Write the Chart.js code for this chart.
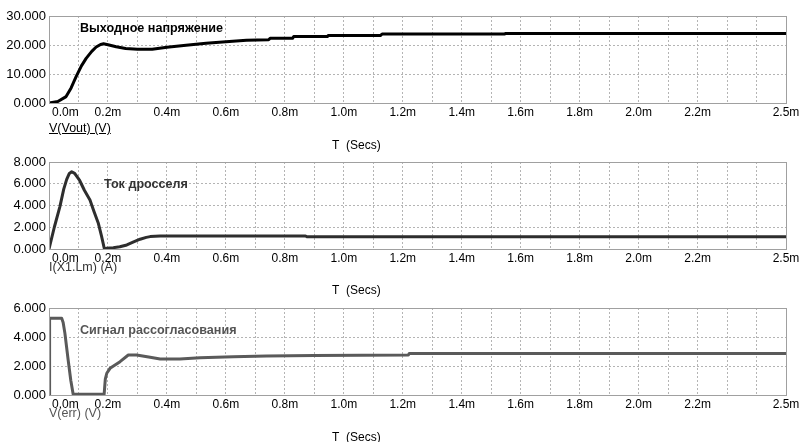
<!DOCTYPE html>
<html>
<head>
<meta charset="utf-8">
<script src="https://cdn.jsdelivr.net/npm/chart.js@4/dist/chart.umd.min.js"></script>
<style>
  html, body { margin: 0; padding: 0; background: #fff; }
  #wrap { position: relative; width: 801px; height: 442px; overflow: hidden;
          font-family: "Liberation Sans", Arial, sans-serif; }
  canvas { position: absolute; left: 0; top: 0; }
  .t { position: absolute; font-size: 12.5px; line-height: 14px; white-space: nowrap; }
  .b { font-weight: bold; font-size: 12.6px; }
</style>
</head>
<body>
<div id="wrap">
  <canvas id="c1" width="801" height="442"></canvas>
  <canvas id="c2" width="801" height="442"></canvas>
  <canvas id="c3" width="801" height="442"></canvas>

  <div class="t" style="left:49px;top:121px;color:#000;text-decoration:underline;">V(Vout) (V)</div>
  <div class="t" style="left:49px;top:260px;color:#333;">I(X1.Lm) (A)</div>
  <div class="t" style="left:49px;top:406px;color:#555;">V(err) (V)</div>

  <div class="t" style="left:332px;top:138px;color:#000;font-size:12px;">T&nbsp; (Secs)</div>
  <div class="t" style="left:332px;top:283px;color:#000;font-size:12px;">T&nbsp; (Secs)</div>
  <div class="t" style="left:332px;top:430px;color:#000;font-size:12px;">T&nbsp; (Secs)</div>

  <div class="t b" style="left:80px;top:21px;color:#000;">Выходное напряжение</div>
  <div class="t b" style="left:104px;top:177px;color:#333;">Ток дросселя</div>
  <div class="t b" style="left:80px;top:323px;color:#555;">Сигнал рассогласования</div>
</div>
<script>
// ---- x axis (time, ms) ----
const xTickValues = [0, 0.2, 0.4, 0.6, 0.8, 1.0, 1.2, 1.4, 1.6, 1.8, 2.0, 2.2, 2.5];
const xTickLabels = ['0.0m','0.2m','0.4m','0.6m','0.8m','1.0m','1.2m','1.4m','1.6m','1.8m','2.0m','2.2m','2.5m'];
const xGridStep = 0.1;
const xMax = 2.5;

// ---- panel 1: V(Vout) ----
const tVout = [0, 0.03, 0.058, 0.075, 0.092, 0.11, 0.126, 0.145, 0.16, 0.175, 0.185, 0.2, 0.228, 0.26, 0.3, 0.35, 0.4, 0.465, 0.533, 0.6, 0.67, 0.745, 0.75, 0.826, 0.83, 0.944, 0.948, 1.125, 1.13, 1.545, 1.55, 2.5];
const vOut  = [0, 0.5, 2.2, 5.2, 9.1, 12.8, 15.4, 17.8, 19.3, 20.2, 20.4, 20.1, 19.4, 18.8, 18.5, 18.5, 19.2, 19.9, 20.6, 21.1, 21.6, 21.8, 22.3, 22.3, 22.9, 22.9, 23.3, 23.3, 23.8, 23.8, 24.0, 24.0];
const yTicks1 = [0, 10, 20, 30];
const yLabels1 = ['0.000', '10.000', '20.000', '30.000'];

// ---- panel 2: I(X1.Lm) ----
const tIl = [0, 0.018, 0.037, 0.05, 0.06, 0.069, 0.077, 0.087, 0.104, 0.12, 0.139, 0.152, 0.167, 0.178, 0.188, 0.195, 0.218, 0.24, 0.264, 0.287, 0.309, 0.33, 0.343, 0.377, 0.87, 0.875, 2.5];
const iL  = [0, 2.0, 3.9, 5.5, 6.4, 6.95, 7.1, 6.95, 6.3, 5.4, 4.5, 3.5, 2.4, 1.2, 0.0, 0.06, 0.12, 0.2, 0.37, 0.65, 0.9, 1.07, 1.14, 1.2, 1.2, 1.12, 1.12];
const yTicks2 = [0, 2, 4, 6, 8];
const yLabels2 = ['0.000', '2.000', '4.000', '6.000', '8.000'];

// ---- panel 3: V(err) ----
const tErr = [0, 0.002, 0.043, 0.048, 0.054, 0.065, 0.074, 0.082, 0.187, 0.191, 0.196, 0.207, 0.241, 0.269, 0.297, 0.343, 0.377, 0.444, 0.512, 0.625, 0.738, 0.9, 1.219, 1.222, 2.5];
const vErr = [0, 5.29, 5.29, 5.0, 4.25, 2.41, 1.0, 0.05, 0.05, 1.1, 1.5, 1.84, 2.3, 2.76, 2.76, 2.6, 2.48, 2.48, 2.57, 2.64, 2.69, 2.72, 2.76, 2.87, 2.87];
const yTicks3 = [0, 1, 2, 3, 4, 5, 6];
const yLabels3 = ['0.000', '', '2.000', '', '4.000', '', '6.000'];

const FONT = '"Liberation Sans", Arial, sans-serif';

const framePlugin = {
  id: 'frame',
  afterDraw(chart) {
    const { ctx, chartArea: a } = chart;
    ctx.save();
    ctx.setLineDash([]);
    ctx.strokeStyle = '#a0a0a0';
    ctx.lineWidth = 1;
    const l = Math.round(a.left) + 0.5, t = Math.round(a.top) + 0.5;
    const r = Math.round(a.right) + 0.5, b = Math.round(a.bottom) + 0.5;
    ctx.strokeRect(l, t, r - l, b - t);
    const xs = chart.scales.x;
    ctx.fillStyle = '#000';
    ctx.font = '12px ' + FONT;
    ctx.textBaseline = 'middle';
    xTickValues.forEach((v, i) => {
      const px = xs.getPixelForValue(v);
      if (i === 0) { ctx.textAlign = 'left'; ctx.fillText(xTickLabels[i], px + 3, b + 9); }
      else { ctx.textAlign = 'center'; ctx.fillText(xTickLabels[i], px, b + 9); }
    });
    ctx.restore();
  }
};

function makeChart(id, ts, vs, color, yMax, yTicks, yLabels, top, bottom) {
  const pts = ts.map((t, i) => ({ x: t, y: vs[i] }));
  return new Chart(document.getElementById(id), {
    type: 'line',
    data: { datasets: [{ data: pts, borderColor: color, borderWidth: 3, pointRadius: 0,
                         tension: 0, borderJoinStyle: 'round', borderCapStyle: 'round', fill: false }] },
    options: {
      responsive: false, animation: false, events: [],
      layout: { padding: { left: 0, right: 15, top: top, bottom: 0 } },
      plugins: { legend: { display: false }, tooltip: { enabled: false } },
      scales: {
        x: {
          type: 'linear', min: 0, max: xMax,
          afterBuildTicks(s) {
            const arr = [];
            for (let k = 0; k <= Math.round(xMax / xGridStep); k++) arr.push({ value: +(k * xGridStep).toFixed(2) });
            s.ticks = arr;
          },
          afterFit(s) { s.height = 442 - bottom; },
          ticks: { display: false },
          grid: { color: '#b4b4b4', lineWidth: 1, drawTicks: false },
          border: { display: false, dash: [2, 2] }
        },
        y: {
          min: 0, max: yMax,
          afterBuildTicks(s) { s.ticks = yTicks.map(v => ({ value: v })); },
          afterFit(s) { s.width = 49; },
          ticks: {
            color: '#000', padding: 3, font: { family: FONT, size: 13 },
            callback: (v) => { const i = yTicks.indexOf(v); return i >= 0 ? yLabels[i] : ''; }
          },
          grid: { color: '#b4b4b4', lineWidth: 1, drawTicks: false },
          border: { display: false, dash: [2, 2] }
        }
      }
    },
    plugins: [framePlugin]
  });
}

makeChart('c1', tVout, vOut, '#000000', 30, yTicks1, yLabels1, 16, 103);
makeChart('c2', tIl, iL, '#2e2e2e', 8, yTicks2, yLabels2, 162, 249);
makeChart('c3', tErr, vErr, '#5a5a5a', 6, yTicks3, yLabels3, 308, 395);
</script>
</body>
</html>
